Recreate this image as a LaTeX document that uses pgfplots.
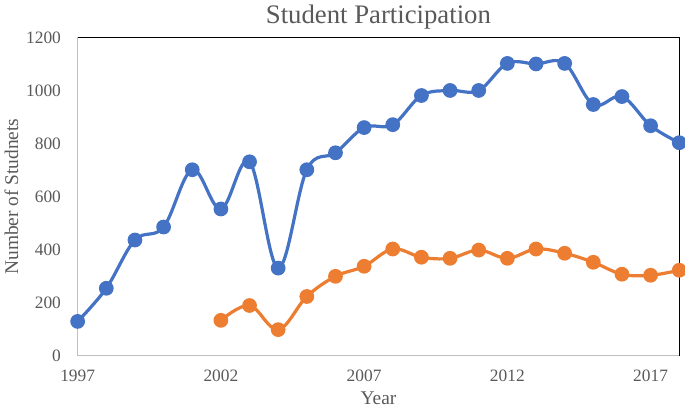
\documentclass[border=0pt]{standalone}
\usepackage{pgfplots}
\pgfplotsset{compat=1.18}
\usepackage{fontspec}
\setmainfont{Liberation Serif}
\definecolor{xlblue}{HTML}{4472C4}
\definecolor{xlorange}{HTML}{ED7D31}
\definecolor{txtgray}{HTML}{595959}
\definecolor{axgray}{HTML}{BFBFBF}

\begin{document}
\begin{tikzpicture}
\begin{axis}[
    scale only axis,
    width=450pt, height=238pt,
    xmin=1997, xmax=2018,
    ymin=0, ymax=1200,
    xtick={1997,2002,2007,2012,2017},
    ytick={0,200,...,1200},
    /pgf/number format/1000 sep={},
    /pgf/number format/assume math mode=true,
    tick style={draw=none},
    ticklabel style={font=\fontsize{13}{15}\selectfont, text=txtgray},
    xticklabel style={yshift=-7pt},
    yticklabel style={xshift=-9pt},
    axis line style={black, line width=0.8pt},
    title={Student Participation},
    title style={font=\fontsize{20}{22}\selectfont, text=txtgray, yshift=-3pt},
    xlabel={Year},
    ylabel={Number of Studnets},
    label style={font=\fontsize{14.5}{16}\selectfont, text=txtgray},
    xlabel style={yshift=-1pt},
    ylabel style={yshift=-1pt},
    clip=false,
]
% grey left and bottom axis lines over the black frame
\draw[axgray, line width=1pt] (axis cs:1997,1200) -- (axis cs:1997,0) -- (axis cs:2018,0);

\addplot[xlblue, line width=2.4pt, smooth, tension=0.6, mark=*, mark size=4.3pt,
    mark options={fill=xlblue, draw=none}] coordinates {
    (1997,129) (1998,254) (1999,436) (2000,485) (2001,701) (2002,553)
    (2003,731) (2004,330) (2005,701) (2006,765) (2007,860) (2008,871)
    (2009,981) (2010,1000) (2011,1000) (2012,1102) (2013,1100) (2014,1102)
    (2015,947) (2016,977) (2017,867) (2018,803)
};
\addplot[xlorange, line width=2.4pt, smooth, tension=0.6, mark=*, mark size=4.3pt,
    mark options={fill=xlorange, draw=none}] coordinates {
    (2002,133) (2003,189) (2004,98) (2005,223) (2006,299) (2007,337)
    (2008,402) (2009,371) (2010,367) (2011,398) (2012,367) (2013,402)
    (2014,386) (2015,352) (2016,307) (2017,303) (2018,322)
};
\end{axis}
\end{tikzpicture}
\end{document}
